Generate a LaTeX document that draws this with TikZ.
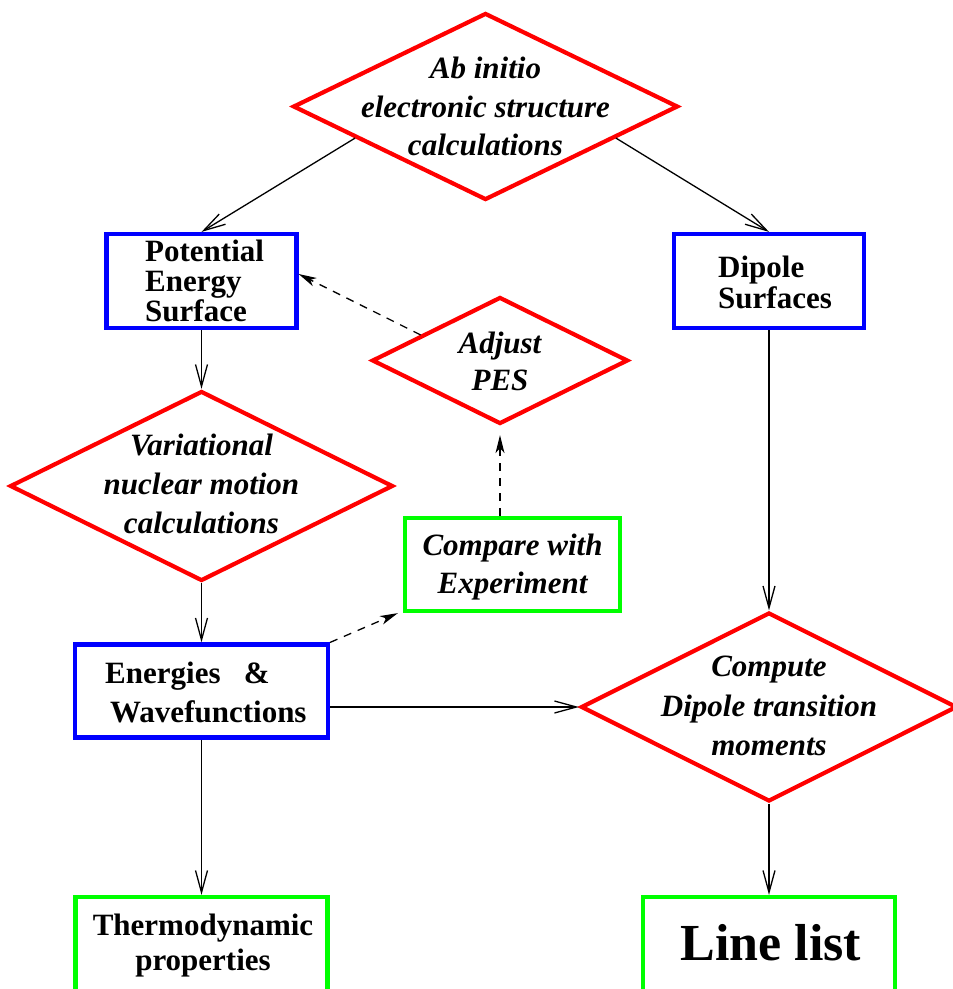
\documentclass[tikz,border=0pt]{standalone}
\usepackage{fontspec}
\setmainfont{Liberation Serif}
\usetikzlibrary{shapes.geometric,arrows.meta,calc}
\definecolor{fred}{RGB}{255,0,0}
\definecolor{fblue}{RGB}{0,0,255}
\definecolor{fgreen}{RGB}{0,255,0}
\begin{document}
\begin{tikzpicture}[x=1pt,y=-1pt,
  diam/.style={diamond,draw=fred,line width=4.2pt,inner sep=0pt},
  bbox/.style={rectangle,draw=fblue,line width=4.2pt,inner sep=0pt},
  gbox/.style={rectangle,draw=fgreen,line width=4.2pt,inner sep=0pt},
  itx/.style={font=\fontsize{31}{38.5}\selectfont\bfseries\itshape,align=center,inner sep=0pt},
  bfx/.style={font=\fontsize{31}{30}\selectfont\bfseries,inner sep=0pt},
  arr/.style={line width=1.3pt,-{Straight Barb[length=22pt,width=12pt]}},
  darr/.style={line width=1.3pt,dash pattern=on 8pt off 7pt,-{Stealth[length=18pt,width=9pt,inset=5pt]}}]
\clip (0,0) rectangle (953,989);
\fill[white] (0,0) rectangle (953,989);
% shapes
\node[diam,minimum width=385pt,minimum height=187pt] (ab) at (485.5,106.5) {};
\node[bbox,minimum width=190pt,minimum height=94pt] (pes) at (201.5,281) {};
\node[bbox,minimum width=190pt,minimum height=94pt] (dip) at (769,281) {};
\node[diam,minimum width=256pt,minimum height=127pt] (adj) at (500,360.5) {};
\node[diam,minimum width=383pt,minimum height=190pt] (var) at (201.5,486) {};
\node[gbox,minimum width=215pt,minimum height=93pt] (cmpx) at (512.5,564.5) {};
\node[bbox,minimum width=253pt,minimum height=93pt] (en) at (201.5,691) {};
\node[diam,minimum width=376pt,minimum height=189pt] (cmt) at (769,707) {};
\node[gbox,minimum width=252pt,minimum height=110pt] (th) at (201.5,952) {};
\node[gbox,minimum width=252pt,minimum height=110pt] (ll) at (769,952) {};
% texts
\node[itx] (abt) at (ab.center) {Ab initio\\electronic structure\\calculations};
\node[bfx,align=left,anchor=west] (pest) at (145,281) {Potential\\Energy\\Surface};
\node[bfx,font=\fontsize{31}{31}\selectfont\bfseries,align=left,anchor=west] (dipt) at (718,282) {Dipole\\Surfaces};
\node[itx,font=\fontsize{31}{37}\selectfont\bfseries\itshape] (adjt) at (500,361) {Adjust\\PES};
\node[itx,font=\fontsize{31}{39}\selectfont\bfseries\itshape] (vart) at (201.5,484) {Variational\\nuclear motion\\calculations};
\node[itx] (cmpxt) at (512.5,567) {Compare with\\Experiment};
\node[bfx,font=\fontsize{31}{39}\selectfont\bfseries,align=left,anchor=west] (ent) at (105,692) {Energies\ \ \ \&\\\hspace*{5pt}Wavefunctions};
\node[itx,font=\fontsize{31}{39.5}\selectfont\bfseries\itshape] (cmtt) at (769,706) {Compute\\Dipole transition\\moments};
\node[bfx,font=\fontsize{31}{35}\selectfont\bfseries,align=center] (tht) at (203,946) {Thermodynamic\\properties};
\node[bfx,font=\fontsize{52}{60}\selectfont\bfseries] (llt) at (771,943) {Line list};
% connectors
\draw[arr] ($(ab.west)!0.33!(ab.south)$) -- (pes.north);
\draw[arr] ($(ab.east)!0.33!(ab.south)$) -- (dip.north);
\draw[arr] (pes.south) -- (var.north);
\draw[arr] (var.south) -- (en.north);
\draw[arr] (en.south) -- (th.north);
\draw[arr] ([yshift=-16pt]en.east) -- (cmt.west);
\draw[arr] (dip.south) -- (cmt.north);
\draw[arr] (cmt.south) -- (ll.north);
\draw[darr] ($(adj.west)!0.39!(adj.north)$) -- ([yshift=7pt]pes.east);
\draw[darr] (adj.south |- cmpx.north) -- ([yshift=-9pt]adj.south);
\draw[darr] (en.north east) -- ([xshift=-5pt]cmpx.south west);
\end{tikzpicture}
\end{document}
